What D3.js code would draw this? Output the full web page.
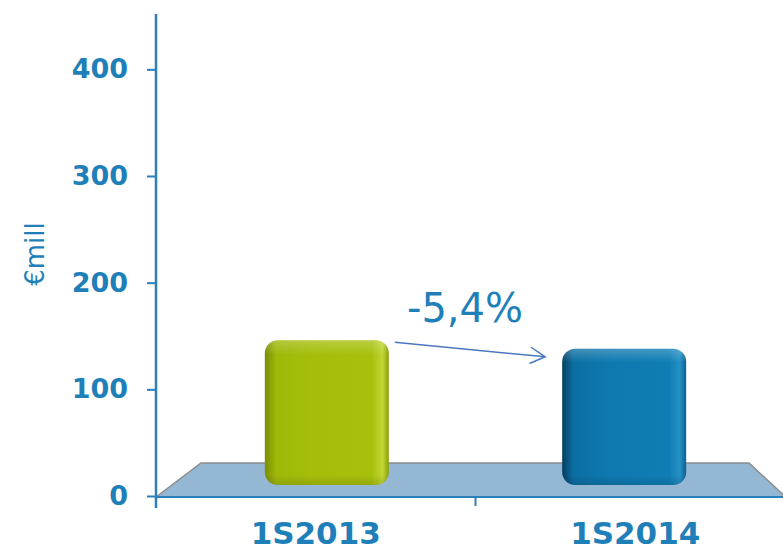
<!DOCTYPE html>
<html lang="en">
<head>
    <meta charset="UTF-8">
    <title>1S2013 vs 1S2014</title>
    <script src="https://cdn.jsdelivr.net/npm/d3@7"></script>
    <style>
        body { margin: 0; background: #fff; }
        svg { display: block; font-family: "DejaVu Sans", Verdana, sans-serif; }
    </style>
</head>
<body>
    <svg width="783" height="552"></svg>
    <script>
        // dati
        var categories = ['1S2013', '1S2014'];
        var values = [146, 138];
        var barColors = ['green', 'blue'];
        var yTicks = [0, 100, 200, 300, 400];
        var changeLabel = '-5,4%';
        var yTitle = '€mill';

        var svg = d3.select('svg');
        var textColor = '#1f7fb8';
        var axisColor = '#2b80ba';

        var y = d3.scaleLinear().domain([0, 450]).range([496, 16]);
        var x = d3.scaleBand().domain(categories).range([156, 795]).paddingInner(0.583).paddingOuter(0.366);
        // categorie sull'asse (senza padding)
        var xLab = d3.scaleBand().domain(categories).range([156, 795]);

        // gradienti barre
        var defs = svg.append('defs');
        var grads = {
            green: ['#7a8c05', '#a0b808', '#a6be0a', '#a8c00c', '#c0d632', '#8a9e06'],
            blue: ['#063d60', '#0b6fa3', '#0e79b0', '#0f7db4', '#2590c4', '#0a6190']
        };
        Object.keys(grads).forEach(function (k) {
            var g = defs.append('linearGradient').attr('id', 'g-' + k)
                .attr('x1', 0).attr('x2', 1).attr('y1', 0).attr('y2', 0);
            [0, 0.09, 0.4, 0.86, 0.95, 1].forEach(function (o, i) {
                g.append('stop').attr('offset', o).attr('stop-color', grads[k][i]);
            });
            var t = defs.append('linearGradient').attr('id', 't-' + k)
                .attr('x1', 0).attr('x2', 0).attr('y1', 0).attr('y2', 1);
            t.append('stop').attr('offset', 0).attr('stop-color', '#fff').attr('stop-opacity', 0.22);
            t.append('stop').attr('offset', 0.1).attr('stop-color', '#fff').attr('stop-opacity', 0);
            t.append('stop').attr('offset', 0.93).attr('stop-color', '#000').attr('stop-opacity', 0);
            t.append('stop').attr('offset', 1).attr('stop-color', '#000').attr('stop-opacity', 0.12);
        });

        // pavimento 3D
        var floorTop = 463, floorBot = 497;
        svg.append('path')
            .attr('d', 'M156,' + floorBot + 'L201,' + floorTop + 'L749,' + floorTop + 'L790,' + (floorBot + 4) + 'L790,' + floorBot + 'Z')
            .attr('fill', '#94b7d3')
            .attr('stroke', '#8c8c8c')
            .attr('stroke-width', 1.5);

        // barre
        var bars = svg.append('g').selectAll('g').data(categories).enter().append('g');
        ['g-', 't-'].forEach(function (pre) {
            bars.append('rect')
                .attr('x', function (d) { return x(d); })
                .attr('y', function (d, i) { return y(values[i]); })
                .attr('width', x.bandwidth())
                .attr('height', function (d, i) { return 485 - y(values[i]); })
                .attr('rx', 13)
                .attr('fill', function (d, i) { return 'url(#' + pre + barColors[i] + ')'; });
        });

        // asse Y
        var yAxis = svg.append('g')
            .attr('transform', 'translate(156,0)')
            .call(d3.axisLeft(y).tickValues(yTicks).tickSize(9).tickPadding(19));
        yAxis.select('.domain').remove();
        yAxis.selectAll('line').attr('stroke', axisColor).attr('stroke-width', 2);
        yAxis.selectAll('text')
            .attr('fill', textColor)
            .attr('font-size', 27)
            .attr('font-weight', 'bold')
            .attr('font-family', '"DejaVu Sans", Verdana, sans-serif');
        svg.append('line')
            .attr('x1', 156).attr('x2', 156).attr('y1', 14).attr('y2', 508)
            .attr('stroke', axisColor).attr('stroke-width', 2.5);

        // asse X
        svg.append('line')
            .attr('x1', 156).attr('x2', 783).attr('y1', 497).attr('y2', 497)
            .attr('stroke', axisColor).attr('stroke-width', 2);
        var mid = (x(categories[0]) + x.bandwidth() + x(categories[1])) / 2;
        svg.append('line')
            .attr('x1', mid).attr('x2', mid).attr('y1', 497).attr('y2', 506)
            .attr('stroke', axisColor).attr('stroke-width', 2);
        svg.append('g').selectAll('text').data(categories).enter().append('text')
            .attr('x', function (d) { return xLab(d) + xLab.bandwidth() / 2; })
            .attr('y', 544)
            .attr('text-anchor', 'middle')
            .attr('fill', textColor)
            .attr('font-size', 31)
            .attr('font-weight', 'bold')
            .text(function (d) { return d; });

        // titolo asse
        svg.append('text')
            .attr('transform', 'translate(44,254) rotate(-90)')
            .attr('text-anchor', 'middle')
            .attr('fill', textColor)
            .attr('font-size', 26)
            .text(yTitle);

        // variazione
        svg.append('text')
            .attr('x', 465).attr('y', 322)
            .attr('text-anchor', 'middle')
            .attr('fill', textColor)
            .attr('font-size', 40)
            .text(changeLabel);

        var ax1 = x(categories[0]) + x.bandwidth() + 6, ay1 = y(values[0]) + 2;
        var ax2 = x(categories[1]) - 17, ay2 = y(values[1]) + 8;
        svg.append('line')
            .attr('x1', ax1).attr('y1', ay1).attr('x2', ax2).attr('y2', ay2)
            .attr('stroke', '#4a78c0').attr('stroke-width', 1.5);
        var ang = Math.atan2(ay2 - ay1, ax2 - ax1);
        function pt(a, l) { return [ax2 - l * Math.cos(ang + a), ay2 - l * Math.sin(ang + a)]; }
        svg.append('path')
            .attr('d', d3.line()([pt(0.5, 17), [ax2, ay2], pt(-0.5, 17)]))
            .attr('fill', 'none')
            .attr('stroke', '#4a78c0').attr('stroke-width', 1.5);
    </script>
</body>
</html>
